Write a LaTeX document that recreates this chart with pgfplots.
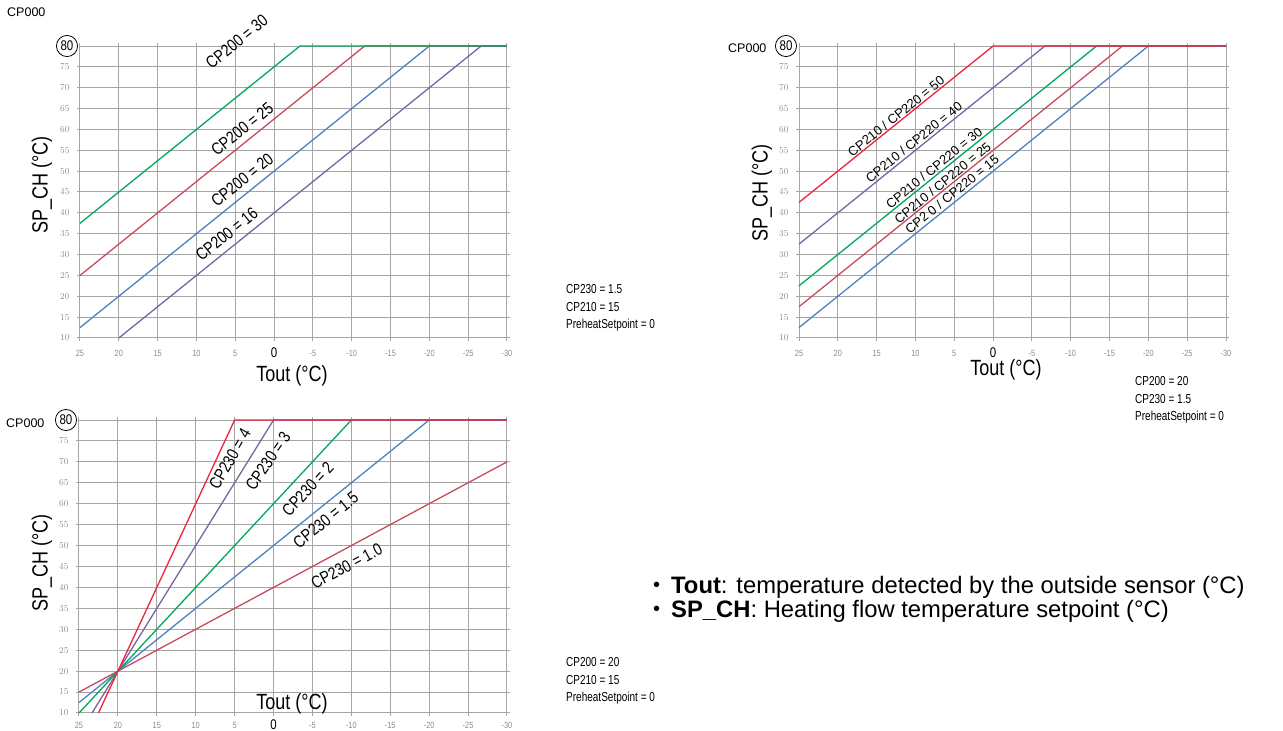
\documentclass[border=0pt]{standalone}
\usepackage{fontspec}
\setmainfont{Liberation Sans}
\newfontfamily\cond[FakeStretch=0.82]{Liberation Sans}
\newfontfamily\condb[FakeStretch=0.77]{Liberation Sans}
\usepackage{pgfplots}
\pgfplotsset{compat=1.18}
\definecolor{cgreen}{RGB}{0,168,90}
\definecolor{crose}{RGB}{200,75,90}
\definecolor{cblue}{RGB}{80,128,190}
\definecolor{cpurple}{RGB}{122,100,162}
\definecolor{cred}{RGB}{238,35,60}
\definecolor{cgrid}{RGB}{165,165,165}
\definecolor{ctick}{RGB}{140,140,140}
\newcommand{\lab}{\cond\fontsize{17}{17}\selectfont}
\newcommand{\labb}{\fontsize{13}{13}\selectfont}
\newcommand{\axl}{\cond\fontsize{22}{22}\selectfont}
\newcommand{\side}{\condb\fontsize{13}{13}\selectfont}
\pgfplotsset{chart/.style={
  scale only axis, width=427pt, height=292pt,
  x dir=reverse, xmin=-30, xmax=25, ymin=10, ymax=80,
  xtick={-30,-25,...,25}, ytick={10,15,...,75},
  xticklabels={-30,-25,-20,-15,-10,-5,{\fontsize{14}{14}\selectfont\color{black}0},5,10,15,20,25},
  grid=major, grid style={cgrid, line width=1pt},
  axis line style={cgrid, line width=1pt},
  tick style={cgrid, line width=1pt}, tick align=outside, major tick length=3pt,
  ticklabel style={font={\cond\fontsize{9}{9}\selectfont}, text=ctick},
  yticklabel style={anchor=east, xshift=-4pt},
  clip=false,
  every axis plot/.append style={line width=1.3pt},
}}
\begin{document}
\begin{tikzpicture}[x=1pt,y=1pt]
\useasboundingbox (0,0) rectangle (1283,731);
% ---------- chart 1 ----------
\begin{axis}[chart, at={(80pt,393pt)}, anchor=south west,
  xticklabel style={anchor=center, yshift=-12pt}]
\addplot[cpurple] coordinates {(20,10) (-26.67,80) (-30,80)};
\addplot[cblue] coordinates {(25,12.5) (-20,80) (-30,80)};
\addplot[crose] coordinates {(25,25) (-11.67,80) (-30,80)};
\addplot[cgreen] coordinates {(25,37.5) (-3.33,80) (-30,80)};
\node[rotate=39, font=\lab] at (axis cs:4.8,81) {CP200 = 30};
\node[rotate=39, font=\lab] at (axis cs:4.1,60.1) {CP200 = 25};
\node[rotate=39, font=\lab] at (axis cs:4.1,47.9) {CP200 = 20};
\node[rotate=39, font=\lab] at (axis cs:6.1,34.9) {CP200 = 16};
\end{axis}
% ---------- chart 2 ----------
\begin{axis}[chart, at={(799pt,393pt)}, anchor=south west,
  xticklabel style={anchor=center, yshift=-12pt}]
\addplot[cblue] coordinates {(25,12.5) (-20,80) (-30,80)};
\addplot[crose] coordinates {(25,17.5) (-16.67,80) (-30,80)};
\addplot[cgreen] coordinates {(25,22.5) (-13.33,80) (-30,80)};
\addplot[cpurple] coordinates {(25,32.5) (-6.67,80) (-30,80)};
\addplot[cred] coordinates {(25,42.5) (0,80) (-30,80)};
\node[rotate=39, font=\labb] at (axis cs:12.5,63.2) {CP210 / CP220 = 50};
\node[rotate=39, font=\labb] at (axis cs:10.2,57) {CP210 / CP220 = 40};
\node[rotate=39, font=\labb] at (axis cs:7.6,50.8) {CP210 / CP220 = 30};
\node[rotate=39, font=\labb] at (axis cs:6.5,47.2) {CP210 / CP220 = 25};
\node[rotate=39, font=\labb] at (axis cs:5.3,44.5) {CP2 0 / CP220 = 15};
\end{axis}
% ---------- chart 3 ----------
\begin{axis}[chart, at={(79pt,18pt)}, anchor=south west, width=428pt, height=293pt,
  xticklabel style={anchor=center, yshift=-9pt, inner sep=0.5pt}]
\addplot[crose] coordinates {(25,15) (-30,70)};
\addplot[cblue] coordinates {(25,12.5) (-20,80) (-30,80)};
\addplot[cgreen] coordinates {(25,10) (-10,80) (-30,80)};
\addplot[cpurple] coordinates {(23.33,10) (0,80) (-30,80)};
\addplot[cred] coordinates {(22.5,10) (5,80) (-30,80)};
\node[rotate=60, font=\lab] at (axis cs:5.6,70.7) {CP230 = 4};
\node[rotate=56, font=\lab] at (axis cs:0.7,70.2) {CP230 = 3};
\node[rotate=47, font=\lab] at (axis cs:-4.4,63.5) {CP230 = 2};
\node[rotate=39, font=\lab] at (axis cs:-6.7,56.1) {CP230 = 1.5};
\node[rotate=28, font=\lab] at (axis cs:-9.4,45.1) {CP230 = 1.0};
\end{axis}
% ---------- annotations ----------
\node[anchor=west, font=\fontsize{12.5}{13}\selectfont, inner sep=0] at (7,719) {CP000};
\node[anchor=west, font=\fontsize{12.5}{13}\selectfont, inner sep=0] at (728,683) {CP000};
\node[anchor=west, font=\fontsize{12.5}{13}\selectfont, inner sep=0] at (6,308) {CP000};
\foreach \cx/\cy in {67/685, 786/685, 66/311}
  \node[draw, circle, line width=0.8pt, inner sep=1.8pt, fill=white, font=\cond\fontsize{14}{14}\selectfont] at (\cx,\cy) {80};
\node[font=\axl] at (292,355) {Tout (°C)};
\node[font=\axl] at (1006,361) {Tout (°C)};
\node[font=\axl] at (292,27) {Tout (°C)};
\node[font=\axl, rotate=90] at (42,546) {SP\_CH (°C)};
\node[font=\axl, rotate=90] at (762,538) {SP\_CH (°C)};
\node[font=\axl, rotate=90] at (42,168) {SP\_CH (°C)};
\node[anchor=west, font=\side, inner sep=0] at (566,442) {CP230 = 1.5};
\node[anchor=west, font=\side, inner sep=0] at (566,424) {CP210 = 15};
\node[anchor=west, font=\side, inner sep=0] at (566,406) {PreheatSetpoint = 0};
\node[anchor=west, font=\side, inner sep=0] at (1135,350) {CP200 = 20};
\node[anchor=west, font=\side, inner sep=0] at (1135,332) {CP230 = 1.5};
\node[anchor=west, font=\side, inner sep=0] at (1135,314) {PreheatSetpoint = 0};
\node[anchor=west, font=\side, inner sep=0] at (566,69) {CP200 = 20};
\node[anchor=west, font=\side, inner sep=0] at (566,51) {CP210 = 15};
\node[anchor=west, font=\side, inner sep=0] at (566,33) {PreheatSetpoint = 0};
\node[anchor=base west, inner sep=0, font=\fontsize{20}{20}\selectfont] at (653,139) {•};
\node[anchor=base west, inner sep=0, font=\fontsize{20}{20}\selectfont] at (653,115) {•};
\node[anchor=base west, inner sep=0, font=\fontsize{23.8}{24}\selectfont] at (671,137) {\textbf{Tout}: temperature detected by the outside sensor (°C)};
\node[anchor=base west, inner sep=0, font=\fontsize{23.8}{24}\selectfont] at (671,113) {\textbf{SP\_CH}: Heating flow temperature setpoint (°C)};
\end{tikzpicture}
\end{document}
